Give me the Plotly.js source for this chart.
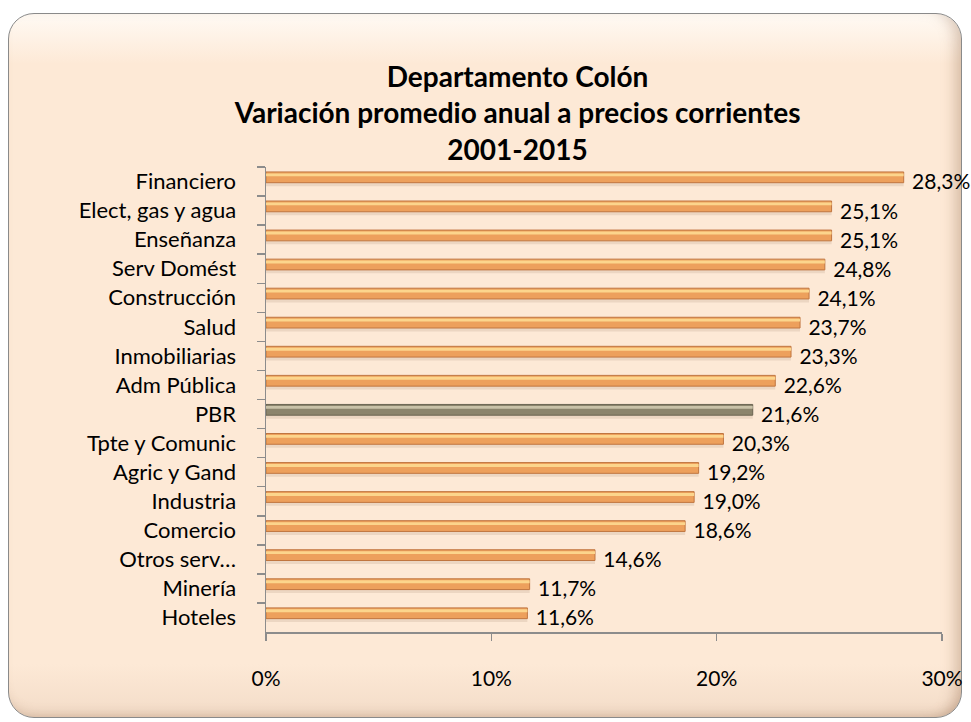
<!DOCTYPE html>
<html>
<head>
<meta charset="utf-8">
<script src="https://cdn.plot.ly/plotly-3.0.1.min.js"></script>
<style>
  html, body { margin: 0; padding: 0; background: #ffffff; }
  #frame {
    position: absolute; left: 8px; top: 13px; width: 952px; height: 703px;
    border: 1.5px solid #8a8a8a; border-radius: 26px;
    background: linear-gradient(to bottom, #fffaf4 0px, #fde9d6 50px, #fde9d6 650px, #f3dcc8 703px);
    box-shadow: inset -14px 0 14px -8px rgba(150,110,80,0.35), inset 0 -10px 12px -8px rgba(150,110,80,0.3);
  }
  #chart { position: absolute; left: 0; top: 0; width: 971px; height: 722px; }
</style>
</head>
<body>
<div id="frame"></div>
<div id="chart"></div>
<script>
// Data (top to bottom as shown)
const categories = ["Financiero", "Elect, gas y agua", "Enseñanza", "Serv Domést", "Construcción",
  "Salud", "Inmobiliarias", "Adm Pública", "PBR", "Tpte y Comunic", "Agric y Gand",
  "Industria", "Comercio", "Otros serv…", "Minería", "Hoteles"];
const values = [28.3, 25.1, 25.1, 24.8, 24.1, 23.7, 23.3, 22.6, 21.6, 20.3, 19.2, 19.0, 18.6, 14.6, 11.7, 11.6];
const xTickVals = [0, 10, 20, 30];
const xTickText = ["0%", "10%", "20%", "30%"];

const barColors = categories.map(c => c === "PBR" ? "#8b846c" : "#eda05c");
const lineColors = categories.map(c => c === "PBR" ? "#6b6552" : "#c07640");
const hiColors = categories.map(c => c === "PBR" ? "#c9c2a8" : "#fcd58c");

const font = "Lato, Carlito, 'Open Sans', sans-serif";

const traces = [
  {
    // soft shadow under each bar (carries the value labels)
    type: "bar", orientation: "h", y: categories, x: values,
    marker: { color: "rgba(140,110,80,0.15)", line: { width: 0 } },
    width: 0.36, offset: -0.2,
    text: values.map(v => "\u00a0" + v.toFixed(1).replace(".", ",") + "%"),
    textposition: "outside", cliponaxis: false, constraintext: "none",
    textfont: { family: font, size: 21, color: "#000" },
    hoverinfo: "skip", showlegend: false
  },
  {
    type: "bar", orientation: "h", y: categories, x: values,
    marker: { color: barColors, line: { color: lineColors, width: 1 } },
    width: 0.37, offset: -0.33,
    hoverinfo: "skip", showlegend: false
  },
  {
    type: "bar", orientation: "h", y: categories, x: values,
    marker: { color: hiColors, line: { width: 0 } },
    width: 0.1, offset: -0.28,
    hoverinfo: "skip", showlegend: false
  }
];

const layout = {
  width: 971, height: 722,
  paper_bgcolor: "rgba(0,0,0,0)", plot_bgcolor: "rgba(0,0,0,0)",
  margin: { l: 266, r: 29, t: 167, b: 90 },
  barmode: "overlay",
  separators: ",.",
  font: { family: font, size: 22, color: "#000" },
  title: {
    text: "<b>Departamento Colón<br>Variación promedio anual a precios corrientes<br>2001-2015</b>",
    x: 0.533, xanchor: "center", xref: "container",
    y: 1 - 87 / 722, yanchor: "top", yref: "container",
    font: { family: font, size: 28, color: "#000" }
  },
  xaxis: {
    range: [0, 30], tickvals: xTickVals, ticktext: xTickText,
    showgrid: false, zeroline: false,
    showline: true, linecolor: "#8c8c8c", linewidth: 1.5,
    ticks: "outside", ticklen: 7, tickcolor: "#8c8c8c", tickwidth: 1.5,
    ticklabelstandoff: 20,
    tickfont: { family: font, size: 21, color: "#000" }
  },
  yaxis: {
    type: "category", autorange: "reversed",
    showgrid: false, zeroline: false,
    showline: true, linecolor: "#8c8c8c", linewidth: 1.5,
    ticks: "outside", ticklen: 8, tickcolor: "#8c8c8c", tickwidth: 1.5,
    tickson: "boundaries",
    ticklabelstandoff: 24,
    tickfont: { family: font, size: 22, color: "#000" }
  }
};

Plotly.newPlot("chart", traces, layout, { displayModeBar: false, staticPlot: true });
</script>
</body>
</html>
